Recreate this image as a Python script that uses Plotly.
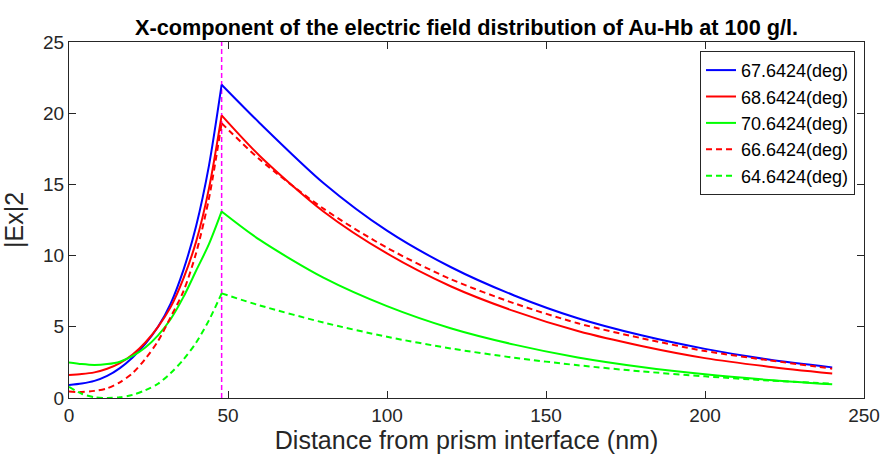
import plotly.graph_objects as go

# Distance from the prism interface (nm): inside the gold film and beyond it
x_film = [0, 4, 8, 12, 16, 20, 24, 28, 32, 36, 40, 44, 48]
x_outer = [48, 60, 80, 100, 120, 140, 160, 180, 200, 220, 240]
x_interface = 48

angles = ["67.6424(deg)", "68.6424(deg)", "70.6424(deg)", "66.6424(deg)", "64.6424(deg)"]

# |Ex|^2 inside the metal film
ex_film_67 = [0.92, 1.02, 1.20, 1.55, 2.10, 2.85, 3.80, 5.00, 6.65, 9.00, 12.1, 16.3, 22.0]
ex_film_68 = [1.62, 1.68, 1.80, 2.05, 2.45, 3.05, 3.90, 5.00, 6.40, 8.40, 11.0, 14.7, 19.85]
ex_film_70 = [2.50, 2.38, 2.32, 2.38, 2.55, 2.95, 3.55, 4.40, 5.55, 7.10, 8.95, 10.8, 13.1]
ex_film_66 = [0.45, 0.42, 0.50, 0.68, 1.10, 1.75, 2.75, 4.00, 5.70, 7.50, 10.2, 14.0, 19.3]
ex_film_64 = [0.78, 0.30, 0.06, 0.00, 0.05, 0.22, 0.55, 1.00, 1.75, 2.70, 3.90, 5.45, 7.35]

# |Ex|^2 in the sample medium (evanescent decay)
ex_outer_67 = [22.0, 19.3, 15.1, 11.75, 9.2, 7.2, 5.6, 4.4, 3.45, 2.7, 2.15]
ex_outer_68 = [19.85, 17.0, 13.1, 10.15, 7.85, 6.1, 4.7, 3.65, 2.8, 2.2, 1.72]
ex_outer_70 = [13.1, 11.1, 8.45, 6.45, 4.9, 3.75, 2.85, 2.18, 1.66, 1.27, 0.96]
ex_outer_66 = [19.3, 16.75, 13.3, 10.55, 8.35, 6.65, 5.25, 4.2, 3.3, 2.65, 2.06]
ex_outer_64 = [7.35, 6.5, 5.3, 4.3, 3.48, 2.83, 2.3, 1.87, 1.52, 1.23, 1.0]

film_series = [ex_film_67, ex_film_68, ex_film_70, ex_film_66, ex_film_64]
outer_series = [ex_outer_67, ex_outer_68, ex_outer_70, ex_outer_66, ex_outer_64]
colors = ["#0000FF", "#FF0000", "#00FF00", "#FF0000", "#00FF00"]
dashes = ["solid", "solid", "solid", "6px,4px", "6px,4px"]

FONT = "Liberation Sans, Arial, Helvetica, sans-serif"
AXIS_COLOR = "#262626"

fig = go.Figure()

# Interface marker
fig.add_trace(go.Scatter(
    x=[x_interface, x_interface], y=[0, 25], mode="lines",
    line=dict(color="#FF00FF", width=1.5, dash="5px,3px"),
    showlegend=False, hoverinfo="skip",
))

for name, yf, color, dash in zip(angles, film_series, colors, dashes):
    fig.add_trace(go.Scatter(
        x=x_film, y=yf, mode="lines", name=name, legendgroup=name,
        line=dict(color=color, width=2, dash=dash, shape="spline", smoothing=0.8),
    ))
for name, yo, color, dash in zip(angles, outer_series, colors, dashes):
    fig.add_trace(go.Scatter(
        x=x_outer, y=yo, mode="lines", name=name, legendgroup=name, showlegend=False,
        line=dict(color=color, width=2, dash=dash, shape="spline", smoothing=0.8),
    ))

axis_common = dict(
    showgrid=False, zeroline=False, showline=True, linecolor=AXIS_COLOR, linewidth=1,
    mirror="ticks", ticks="inside", ticklen=7, tickcolor=AXIS_COLOR, tickwidth=1,
    tickfont=dict(family=FONT, size=19, color=AXIS_COLOR), automargin=False,
)

fig.update_layout(
    width=882, height=459,
    margin=dict(l=69, r=18, t=42, b=61),
    paper_bgcolor="white", plot_bgcolor="white",
    font=dict(family=FONT, color=AXIS_COLOR),
    title=dict(
        text="<b>X-component of the electric field distribution of Au-Hb at 100 g/l.</b>",
        font=dict(family=FONT, size=21.7, color="black"),
        x=0.5, xref="paper", xanchor="center", y=0.94, yref="container", yanchor="middle",
        automargin=False,
    ),
    xaxis=dict(
        range=[0, 250], tickvals=[0, 50, 100, 150, 200, 250],
        title=dict(text="Distance from prism interface (nm)",
                   font=dict(family=FONT, size=25, color=AXIS_COLOR), standoff=4),
        **axis_common,
    ),
    yaxis=dict(
        range=[0, 25], tickvals=[0, 5, 10, 15, 20, 25],
        title=dict(text="|Ex|2", font=dict(family=FONT, size=25, color=AXIS_COLOR), standoff=14),
        **axis_common,
    ),
    legend=dict(
        x=0.9887, xanchor="right", y=0.975, yanchor="top",
        bgcolor="white", bordercolor=AXIS_COLOR, borderwidth=1,
        font=dict(family=FONT, size=18, color="black"),
        itemwidth=30, tracegroupgap=0,
    ),
)

fig.write_html("out.html")
